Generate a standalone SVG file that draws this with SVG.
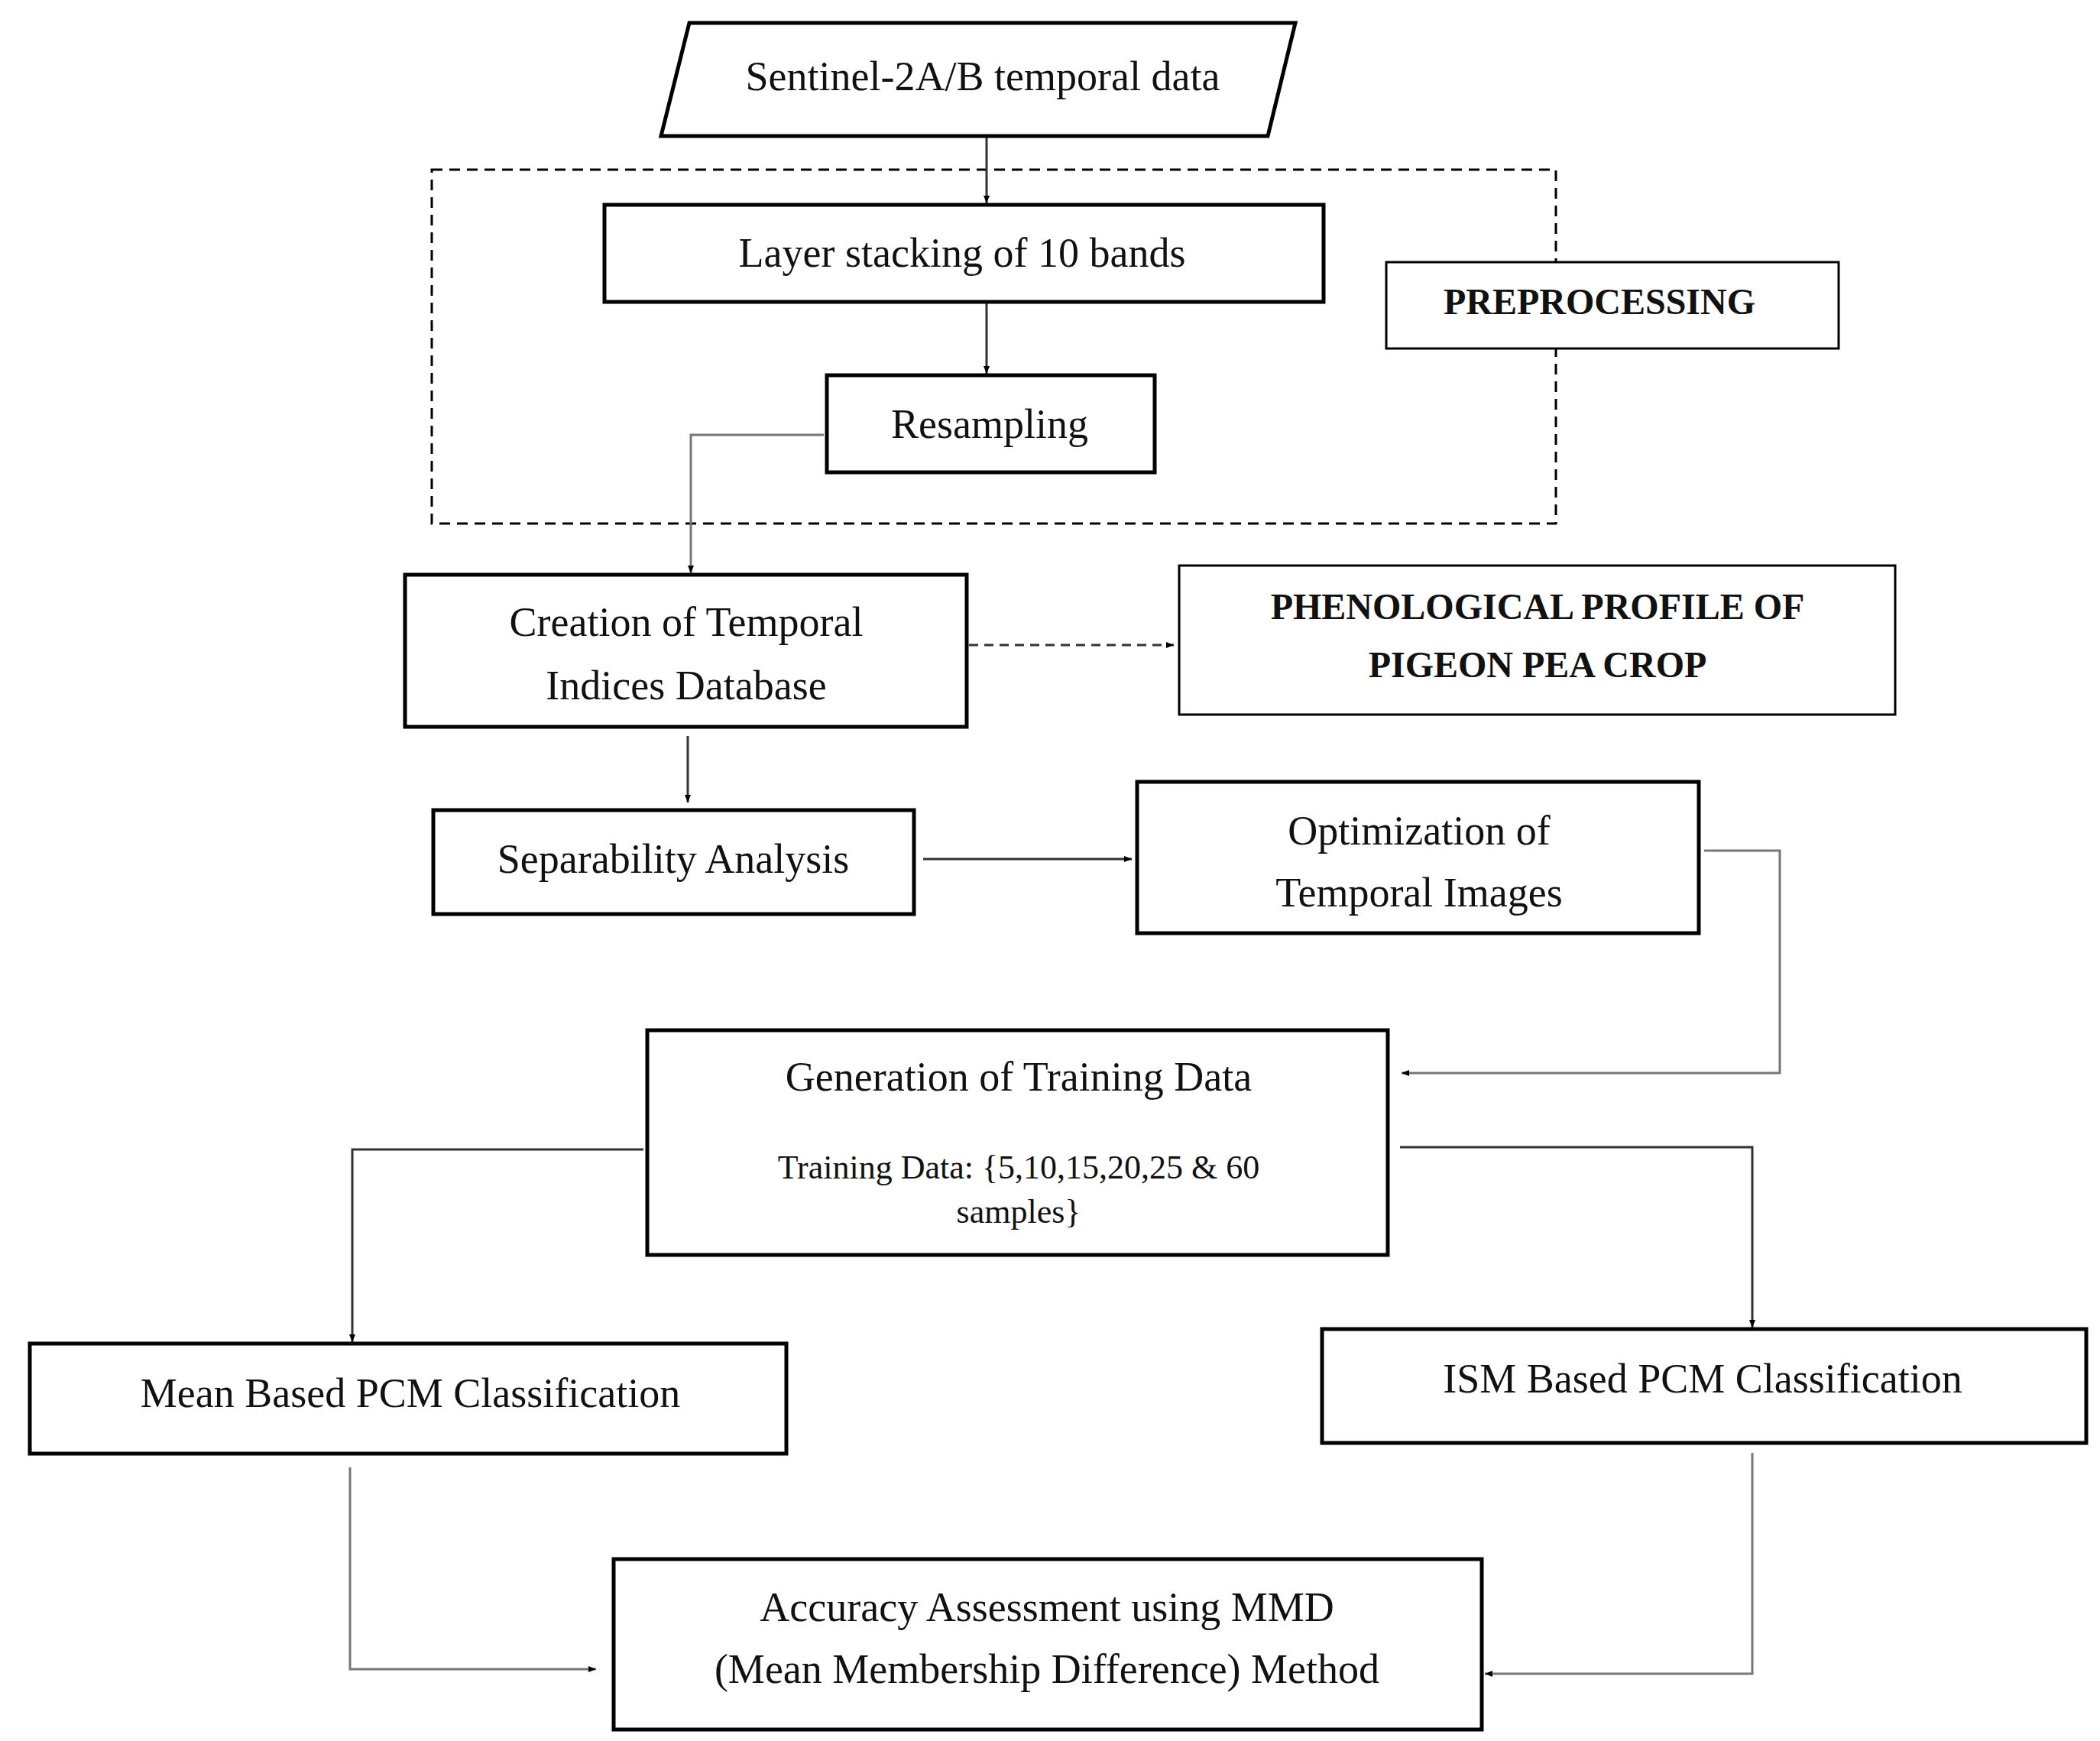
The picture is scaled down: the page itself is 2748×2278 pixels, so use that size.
<svg xmlns="http://www.w3.org/2000/svg" width="2748" height="2278" viewBox="0 0 2748 2278">
<style>
.b{fill:#fff;stroke:#000;stroke-width:5}
.t{font-family:"Liberation Serif",serif;font-size:54px;text-anchor:middle;fill:#111}
.bt{font-family:"Liberation Serif",serif;font-size:48px;font-weight:bold;text-anchor:middle;fill:#111}
.s{font-family:"Liberation Serif",serif;font-size:44px;text-anchor:middle;fill:#111}
.c{fill:none;stroke:#333;stroke-width:3;marker-end:url(#a)}
.g{fill:none;stroke:#777;stroke-width:3;marker-end:url(#a)}
</style>
<defs><marker id="a" markerWidth="10" markerHeight="8" refX="10" refY="4" orient="auto" markerUnits="userSpaceOnUse" viewBox="0 0 10 8"><path d="M0,0L10,4L0,8z" fill="#000"/></marker></defs>
<rect width="2748" height="2278" fill="#fff"/>
<rect x="565" y="222" width="1471" height="463" fill="none" stroke="#000" stroke-width="3" stroke-dasharray="14,9"/>
<g id="connectors">
<path class="c" d="M1291,178V266"/>
<path class="c" d="M1291,395V489"/>
<path class="g" d="M1078,569H904V750"/>
<path class="c" d="M1268,844H1536" stroke-dasharray="12,8"/>
<path class="c" d="M900,963V1050"/>
<path class="c" d="M1208,1124H1481"/>
<path class="g" d="M2230,1113H2329V1404H1834"/>
<path class="c" d="M842,1504H461V1756"/>
<path class="c" d="M1832,1501H2293V1737"/>
<path class="g" d="M458,1920V2184H780"/>
<path class="g" d="M2293,1901V2190H1943"/>
</g>
<g id="n1"><path class="b" d="M902,30H1695L1659,178H865z"/><text class="t" x="1286" y="118">Sentinel-2A/B temporal data</text></g>
<g id="n2"><rect class="b" x="791" y="268" width="941" height="127"/><text class="t" x="1259" y="349">Layer stacking of 10 bands</text></g>
<g id="n3"><rect x="1814" y="343" width="592" height="113" fill="#fff" stroke="#000" stroke-width="3"/><text class="bt" x="2093" y="411">PREPROCESSING</text></g>
<g id="n4"><rect class="b" x="1082" y="491" width="429" height="127"/><text class="t" x="1295" y="573">Resampling</text></g>
<g id="n5"><rect class="b" x="530" y="752" width="735" height="199"/><text class="t" x="898" y="832">Creation of Temporal</text><text class="t" x="898" y="915">Indices Database</text></g>
<g id="n6"><rect x="1543" y="740" width="937" height="195" fill="#fff" stroke="#000" stroke-width="3"/><text class="bt" x="2012" y="810">PHENOLOGICAL PROFILE OF</text><text class="bt" x="2012" y="886">PIGEON PEA CROP</text></g>
<g id="n7"><rect class="b" x="567" y="1060" width="629" height="136"/><text class="t" x="881" y="1142">Separability Analysis</text></g>
<g id="n8"><rect class="b" x="1488" y="1023" width="735" height="198"/><text class="t" x="1857" y="1105">Optimization of</text><text class="t" x="1857" y="1186">Temporal Images</text></g>
<g id="n9"><rect class="b" x="847" y="1348" width="969" height="294"/><text class="t" x="1333" y="1427">Generation of Training Data</text><text class="s" x="1333" y="1542">Training Data: {5,10,15,20,25 &amp; 60</text><text class="s" x="1333" y="1600">samples}</text></g>
<g id="n10"><rect class="b" x="39" y="1758" width="990" height="144"/><text class="t" x="537" y="1841">Mean Based PCM Classification</text></g>
<g id="n11"><rect class="b" x="1730" y="1739" width="1000" height="149"/><text class="t" x="2228" y="1822">ISM Based PCM Classification</text></g>
<g id="n12"><rect class="b" x="803" y="2040" width="1136" height="223"/><text class="t" x="1370" y="2121">Accuracy Assessment using MMD</text><text class="t" x="1370" y="2202">(Mean Membership Difference) Method</text></g>
</svg>
